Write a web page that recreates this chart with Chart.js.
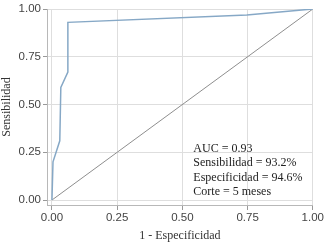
<!DOCTYPE html>
<html><head><meta charset="utf-8">
<script src="https://cdn.jsdelivr.net/npm/chart.js@4/dist/chart.umd.min.js"></script>
<style>html,body{margin:0;padding:0;background:#fff}#w{width:325px;height:247px}</style>
</head><body><div id="w"><canvas id="c"></canvas></div>
<script>
const rocX = [0, 0.004, 0.03, 0.034, 0.061, 0.061, 0.747, 1];
const rocY = [0, 0.20, 0.31, 0.59, 0.67, 0.93, 0.969, 1];
const diagX = [0, 1];
const diagY = [0, 1];
const tickVals = [0, 0.25, 0.5, 0.75, 1];
const annotLines = ["AUC = 0.93", "Sensibilidad = 93.2%", "Especificidad = 94.6%", "Corte = 5 meses"];
const xTitle = "1 - Especificidad";
const yTitle = "Sensibilidad";

const toPts = (xs, ys) => xs.map((x, i) => ({x, y: ys[i]}));

const annot = {
  id: 'annot',
  afterDatasetsDraw(chart) {
    const ctx = chart.ctx, xs = chart.scales.x, ys = chart.scales.y;
    ctx.save();
    ctx.font = '12px "Liberation Serif"';
    ctx.fillStyle = '#222';
    ctx.textBaseline = 'middle';
    const x0 = xs.getPixelForValue(0.542);
    annotLines.forEach((t, i) => {
      ctx.fillText(t, x0, ys.getPixelForValue(0.267) + i * 14.3);
    });
    ctx.restore();
  }
};

const tickFont = {family: '"Liberation Sans"', size: 11.5};
const titleFont = {family: '"Liberation Serif"', size: 12};

new Chart(document.getElementById('c'), {
  type: 'scatter',
  data: {
    datasets: [
      {data: toPts(diagX, diagY), showLine: true, borderColor: '#8e8e8e', borderWidth: 1, pointRadius: 0, order: 2},
      {data: toPts(rocX, rocY), showLine: true, borderColor: '#86a8c6', borderWidth: 1.5, pointRadius: 0, order: 1}
    ]
  },
  options: {
    responsive: true, maintainAspectRatio: false, animation: false,
    layout: {padding: {top: 9, right: 12, left: 0, bottom: 0}},
    plugins: {legend: {display: false}, tooltip: {enabled: false}},
    scales: {
      x: {
        type: 'linear', min: -0.019, max: 1,
        afterBuildTicks: s => { s.ticks = tickVals.map(v => ({value: v})); },
        afterFit: s => { s.height = 42; },
        ticks: {font: tickFont, color: '#444', padding: 1, maxRotation: 0, callback: v => Number(v).toFixed(2)},
        grid: {color: '#dedede', tickColor: '#999', tickLength: 5, lineWidth: 1},
        border: {color: '#b8b8b8', width: 1},
        title: {display: true, text: xTitle, font: titleFont, color: '#333', padding: {top: 0, bottom: 4}}
      },
      y: {
        type: 'linear', min: -0.026, max: 1,
        afterBuildTicks: s => { s.ticks = tickVals.map(v => ({value: v})); },
        afterFit: s => { s.width = 47; },
        ticks: {font: tickFont, color: '#444', padding: 2, callback: v => Number(v).toFixed(2)},
        grid: {color: '#dedede', tickColor: '#999', tickLength: 4, lineWidth: 1},
        border: {color: '#b8b8b8', width: 1},
        title: {display: true, text: yTitle, font: titleFont, color: '#333', padding: {top: 0, bottom: 2}}
      }
    }
  },
  plugins: [annot]
});
</script></body></html>
